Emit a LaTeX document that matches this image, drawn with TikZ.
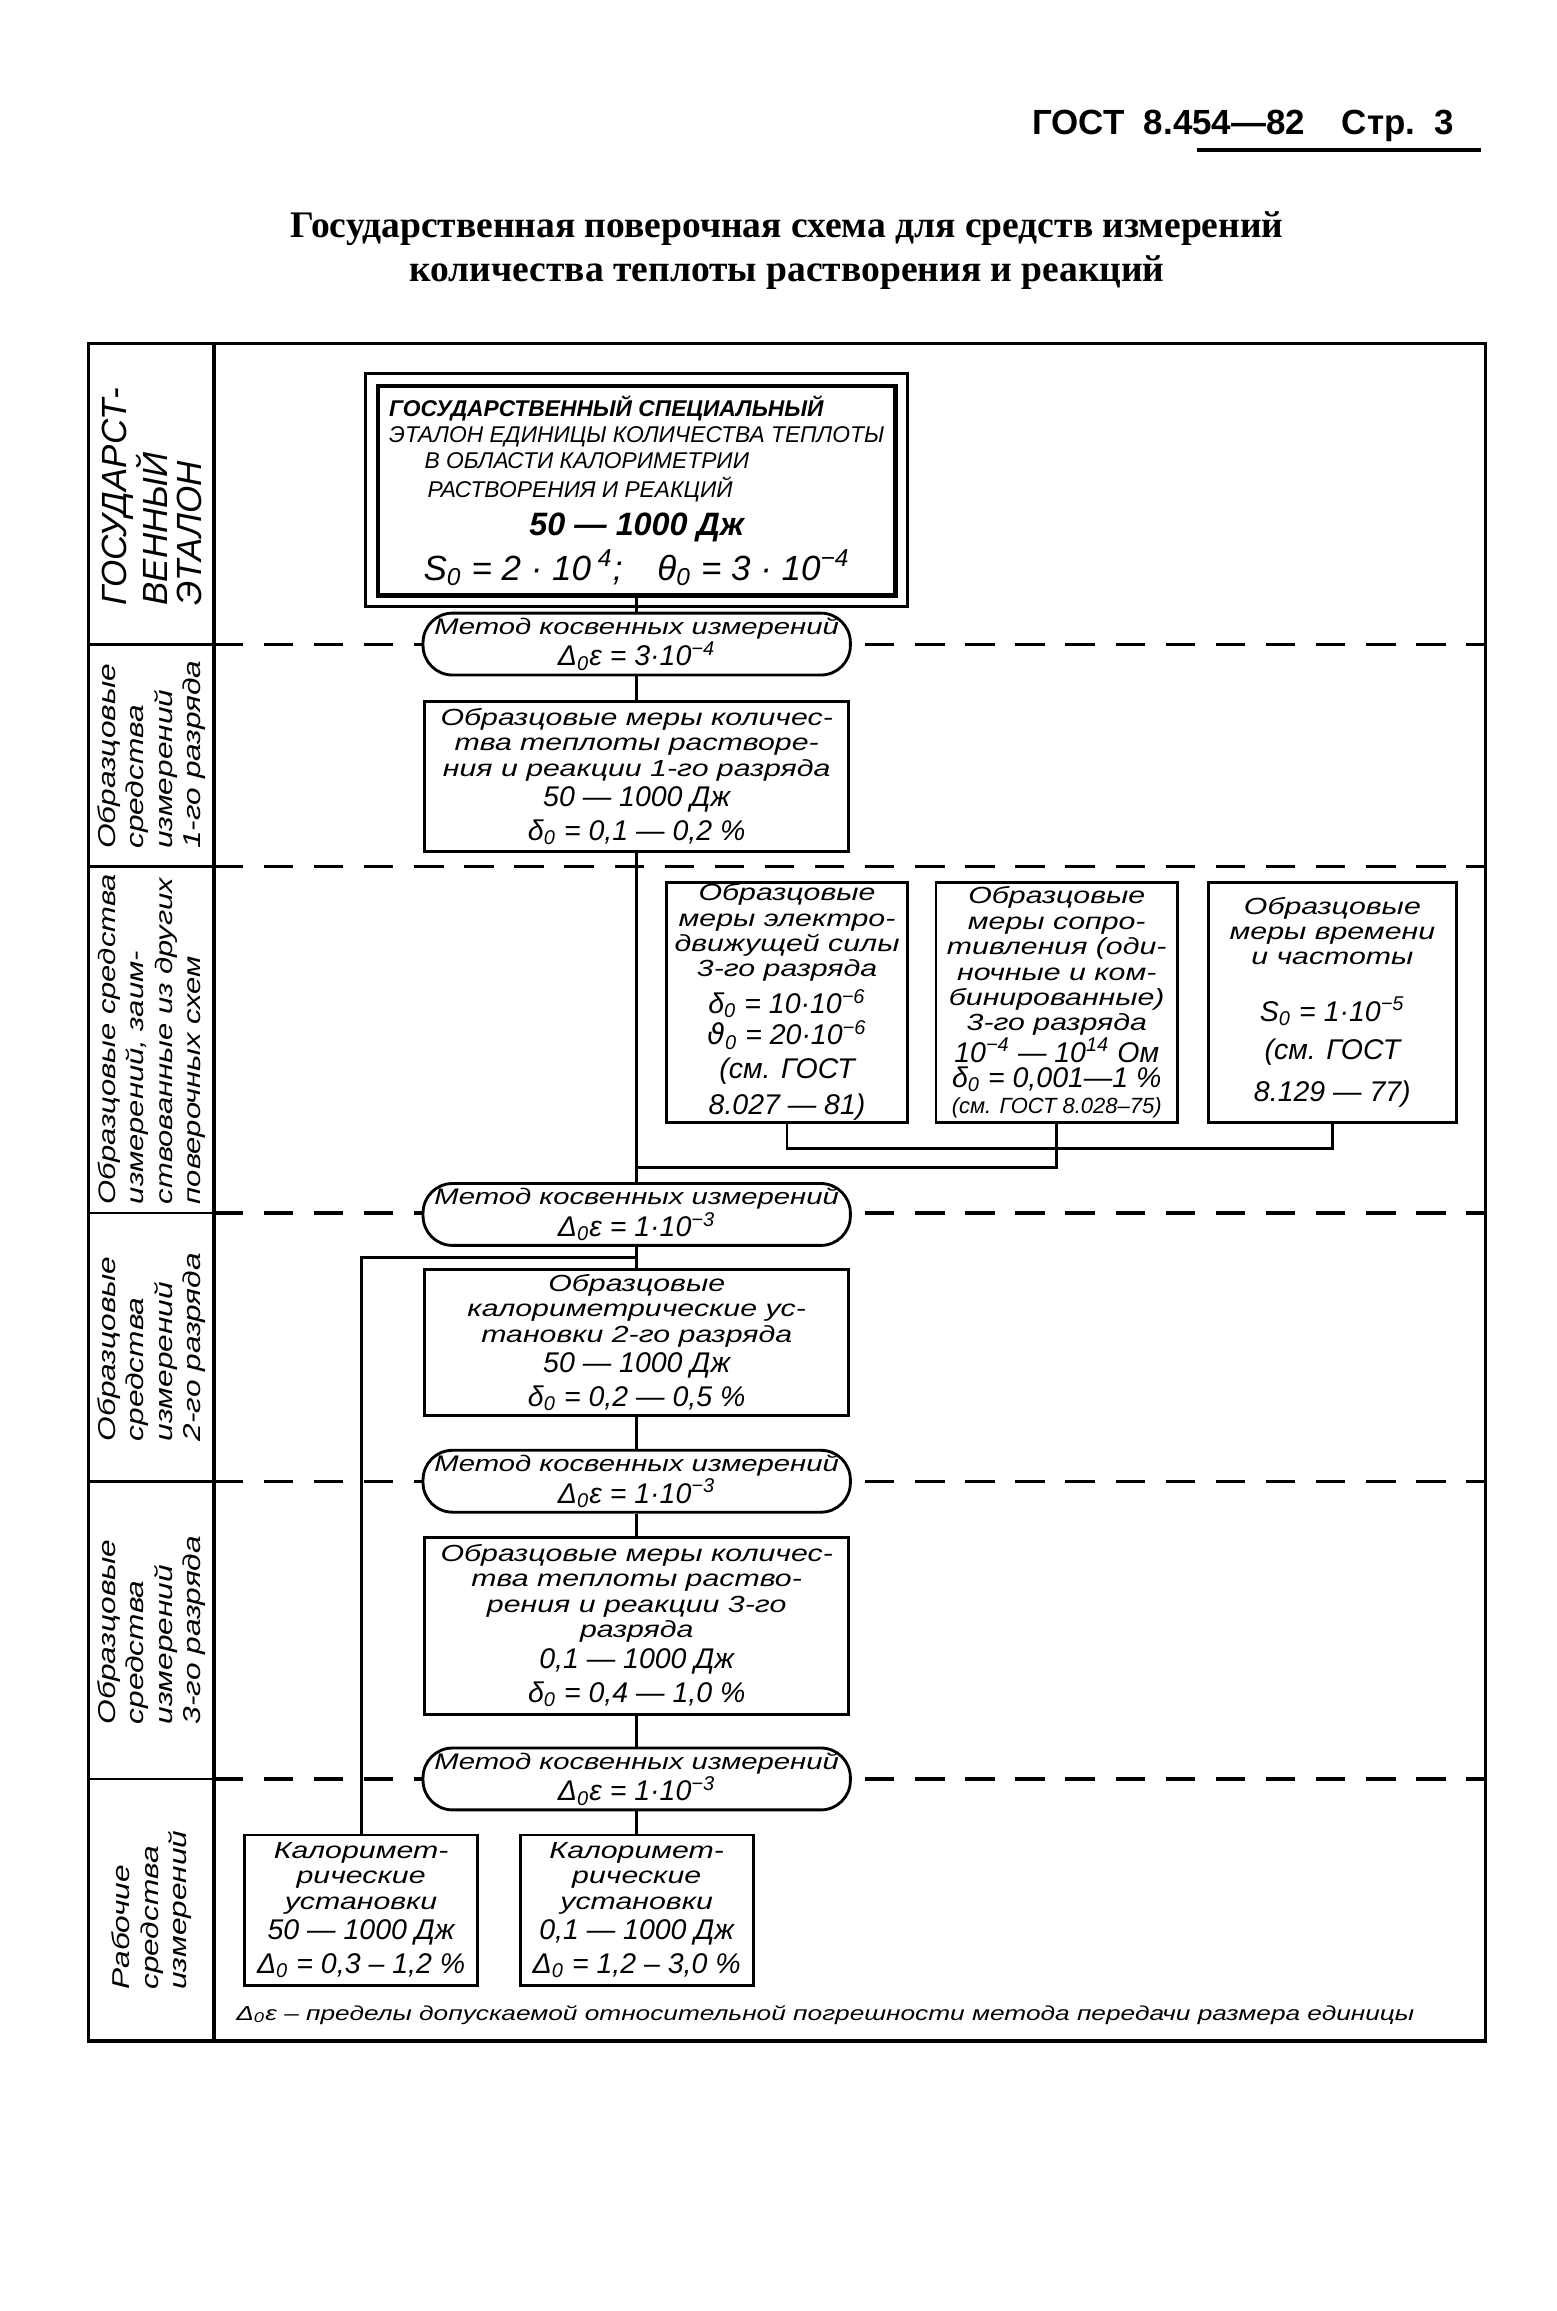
\documentclass[tikz,border=0pt]{standalone}
\usepackage{fontspec}
\usepackage{tikz}
\usetikzlibrary{calc}
\newfontfamily\gostfont{Liberation Sans}[FakeStretch=1.3]
\newfontfamily\gostcaps{Liberation Sans}
\newfontfamily\symfont{DejaVu Sans}
\newfontfamily\titlefont{Liberation Serif}
\newcommand{\gnum}[1]{{\gostcaps\fontsize{11}{11}\selectfont #1}}

\begin{document}
\begin{tikzpicture}[x=0.02cm, y=-0.02cm,
    frame/.style={line width=1.4pt},
    divider/.style={line width=1.2pt, dash pattern=on 0.4cm off 0.28cm},
    link/.style={line width=1.1pt},
    rowlabel/.style={rotate=90, align=left, inner sep=0pt,
      font=\gostfont\itshape\fontsize{9.4}{11}\selectfont},
    measure/.style={draw, line width=1.1pt, inner sep=0pt, align=center,
      font=\gostfont\itshape\fontsize{9}{9.8}\selectfont},
    method/.style={draw, line width=1.1pt, fill=white, rounded corners=0.4cm,
      minimum width=5.8cm, minimum height=0.84cm, inner sep=0pt, align=center,
      font=\gostfont\itshape\fontsize{8.7}{10.5}\selectfont}]
  \useasboundingbox (0,0) rectangle (1056,1568);

  % header and title
  \node[anchor=base west, inner sep=0pt, font=\gostcaps\bfseries\fontsize{13.5}{16}\selectfont] (gost) at (700,91) {ГОСТ\ \ 8.454—82};
  \node[anchor=base east, inner sep=0pt, font=\gostcaps\bfseries\fontsize{13.5}{16}\selectfont] (page) at (987,91) {Стр.\ \ 3};
  \draw[line width=1.6pt] (812,102) -- (1005,102);
  \node[align=center, font=\titlefont\bfseries\fontsize{14.5}{17}\selectfont] (title) at (534,170)
    {Государственная поверочная схема для средств измерений\\количества теплоты растворения и реакций};

  % frame and rows
  \draw[frame] (60,233) rectangle (1008,1385);
  \draw[frame] (145,233) -- (145,1385);
  \foreach \y in {437,588,823,1005,1207} {
    \draw[link] (60,\y) -- (145,\y);
    \draw[divider] (145,\y) -- (1008,\y);
  }

  % row labels
  \node[rowlabel, font=\gostcaps\itshape\fontsize{13.5}{13}\selectfont] (lab1) at (103,337) {ГОСУДАРСТ-\\ВЕННЫЙ\\ЭТАЛОН};
  \node[rowlabel] (lab2) at (103,512) {Образцовые\\средства\\измерений\\1-го разряда};
  \node[rowlabel, font=\gostfont\itshape\fontsize{9.2}{11}\selectfont] (lab3) at (103,705) {Образцовые средства\\измерений, заим-\\ствованные из других\\поверочных схем};
  \node[rowlabel] (lab4) at (103,914) {Образцовые\\средства\\измерений\\2-го разряда};
  \node[rowlabel] (lab5) at (103,1106) {Образцовые\\средства\\измерений\\3-го разряда};
  \node[rowlabel] (lab6) at (103,1296) {Рабочие\\средства\\измерений};

  % state standard
  \node[draw, line width=1.7pt, minimum width=7.02cm, minimum height=2.84cm, inner sep=0pt, align=center,
    font=\gostcaps\itshape\fontsize{8.8}{10.2}\selectfont] (etalon) at (432,333) {%
    \begin{tabular}{@{}l@{}}
      \textbf{ГОСУДАРСТВЕННЫЙ СПЕЦИАЛЬНЫЙ}\\
      ЭТАЛОН ЕДИНИЦЫ КОЛИЧЕСТВА ТЕПЛОТЫ\\
      \hspace*{0.48cm}В ОБЛАСТИ КАЛОРИМЕТРИИ\\
      \hspace*{0.52cm}РАСТВОРЕНИЯ И РЕАКЦИЙ
    \end{tabular}\\[2pt]
    {\bfseries\fontsize{12.5}{14}\selectfont 50 — 1000 Дж}\\[2pt]
    {\fontsize{13.5}{15}\selectfont S\textsubscript{0} = 2 · 10\textsuperscript{ 4};\quad θ\textsubscript{0} = 3 · 10\textsuperscript{−4}}};
  \draw[line width=1.1pt] ($(etalon.north west)+(-7,-7)$) rectangle ($(etalon.south east)+(7,6)$);

  % methods
  \node[method] (m1) at (432,437) {Метод косвенных измерений\\\gnum{Δ\textsubscript{0}ε = 3·10\textsuperscript{−4}}};
  \node[method] (m2) at (432,824) {Метод косвенных измерений\\\gnum{Δ\textsubscript{0}ε = 1·10\textsuperscript{−3}}};
  \node[method] (m3) at (432,1005) {Метод косвенных измерений\\\gnum{Δ\textsubscript{0}ε = 1·10\textsuperscript{−3}}};
  \node[method] (m4) at (432,1207) {Метод косвенных измерений\\\gnum{Δ\textsubscript{0}ε = 1·10\textsuperscript{−3}}};

  % reference measures
  \node[measure, minimum width=5.76cm, minimum height=2.04cm] (obr1) at (432,527)
    {Образцовые меры количес-\\тва теплоты растворе-\\ния и реакции 1-го разряда\\[2pt]\gnum{50 — 1000 Дж}\\[2pt]\gnum{δ\textsubscript{0} = 0,1 — 0,2 \%}};
  \node[measure, minimum width=3.28cm, minimum height=3.26cm] (emf) at (534,680)
    {Образцовые\\меры электро-\\движущей силы\\3-го разряда\\[2pt]\gnum{δ\textsubscript{0} = 10·10\textsuperscript{−6}}\\\gnum{{\symfont ϑ}\textsubscript{0} = 20·10\textsuperscript{−6}}\\[3pt]\gnum{(см. ГОСТ}\\[3pt]\gnum{8.027 — 81)}};
  \node[measure, minimum width=3.28cm, minimum height=3.26cm] (resist) at (717,680)
    {Образцовые\\меры сопро-\\тивления (оди-\\ночные и ком-\\бинированные)\\3-го разряда\\\gnum{10\textsuperscript{−4} — 10\textsuperscript{14} Ом}\\\gnum{δ\textsubscript{0} = 0,001—1 \%}\\{\gostcaps\fontsize{8.5}{9}\selectfont (см. ГОСТ 8.028–75)}};
  \node[measure, minimum width=3.36cm, minimum height=3.26cm] (freq) at (904,680)
    {Образцовые\\меры времени\\и частоты\\[12pt]\gnum{S\textsubscript{0} = 1·10\textsuperscript{−5}}\\[5pt]\gnum{(см. ГОСТ}\\[5pt]\gnum{8.129 — 77)}};
  \node[measure, minimum width=5.76cm, minimum height=1.98cm] (obr2) at (432,911)
    {Образцовые\\калориметрические ус-\\тановки 2-го разряда\\[2pt]\gnum{50 — 1000 Дж}\\[2pt]\gnum{δ\textsubscript{0} = 0,2 — 0,5 \%}};
  \node[measure, minimum width=5.76cm, minimum height=2.4cm] (obr3) at (432,1103)
    {Образцовые меры количес-\\тва теплоты раство-\\рения и реакции 3-го\\разряда\\[2pt]\gnum{0,1 — 1000 Дж}\\[2pt]\gnum{δ\textsubscript{0} = 0,4 — 1,0 \%}};

  % working instruments
  \node[measure, minimum width=3.16cm, minimum height=2.04cm] (work1) at (245,1296)
    {Калоримет-\\рические\\установки\\[2pt]\gnum{50 — 1000 Дж}\\[2pt]\gnum{Δ\textsubscript{0} = 0,3 – 1,2 \%}};
  \node[measure, minimum width=3.16cm, minimum height=2.04cm] (work2) at (432,1296)
    {Калоримет-\\рические\\установки\\[2pt]\gnum{0,1 — 1000 Дж}\\[2pt]\gnum{Δ\textsubscript{0} = 1,2 – 3,0 \%}};

  \node[anchor=west, inner sep=0pt, font=\gostfont\itshape\fontsize{7.8}{9}\selectfont] (note) at (160,1367)
    {Δ\textsubscript{0}ε – пределы допускаемой относительной погрешности метода передачи размера единицы};

  % connections
  \coordinate (j1) at (432,792);
  \coordinate (j2) at (432,853);
  \draw[link] (etalon.south) -- (m1.north);
  \draw[link] (m1.south) -- (obr1.north);
  \draw[link] (obr1.south) -- (m2.north);
  \draw[link] (emf.south) -- ++(0,17) -| (freq.south);
  \draw[link] (resist.south) |- (j1);
  \draw[link] (m2.south) -- (obr2.north);
  \draw[link] (j2) -| (work1.north);
  \draw[link] (obr2.south) -- (m3.north);
  \draw[link] (m3.south) -- (obr3.north);
  \draw[link] (obr3.south) -- (m4.north);
  \draw[link] (m4.south) -- (work2.north);
\end{tikzpicture}
\end{document}
